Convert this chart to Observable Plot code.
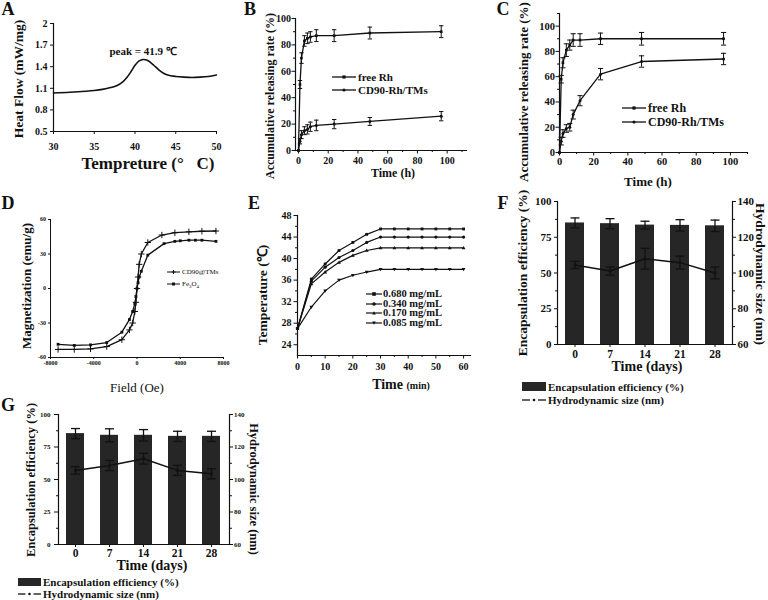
<!DOCTYPE html>
<html><head><meta charset="utf-8">
<script src="https://cdn.jsdelivr.net/npm/d3@7"></script>
<script src="https://cdn.jsdelivr.net/npm/@observablehq/plot@0.6"></script>
<style>
html,body{margin:0;padding:0;background:#fff;}
#root{position:relative;width:768px;height:600px;overflow:hidden;font-family:"Liberation Serif","Times New Roman",serif;color:#111;}
.t{position:absolute;white-space:nowrap;font-weight:bold;line-height:1;}
</style></head><body><div id="root"></div>
<script>
// ---------------- DATA ----------------
// Panel A: DSC curve
const tempA = [30, 32, 34, 35, 36, 37, 37.8, 38.5, 39, 39.5, 40, 40.5, 41, 41.5, 42, 42.5, 43, 43.5, 44, 45, 46, 47, 48, 49, 50];
const heatA = [1.035, 1.045, 1.06, 1.07, 1.085, 1.11, 1.14, 1.19, 1.25, 1.33, 1.42, 1.48, 1.50, 1.49, 1.45, 1.40, 1.35, 1.31, 1.285, 1.265, 1.255, 1.25, 1.255, 1.265, 1.285];
const peakTextA = "peak = 41.9 ℃";
const ticksAx = [30, 35, 40, 45, 50];
const ticksAy = [0.5, 0.8, 1.1, 1.4, 1.7, 2];

// Panel B: release
const timeB = [0, 1, 2, 4, 6, 8, 12, 24, 48, 96];
const freeB = [0, 50, 70, 83, 85, 86, 87, 87, 89, 90];
const freeBErr = [0, 3, 4, 4, 4, 4, 4.5, 4.5, 4.5, 4.5];
const cdB = [0, 7, 12, 15, 16, 18, 19, 20, 22, 26];
const cdBErr = [0, 2, 3, 3, 3.5, 3.5, 4, 3.5, 3, 3.5];

// Panel C: release
const timeC = [0, 1, 2, 4, 6, 8, 12, 24, 48, 96];
const freeC = [0, 58, 71, 81, 85, 89, 89, 90, 90, 90];
const freeCErr = [0, 3, 4, 5, 4, 5, 5, 4.5, 5, 5];
const cdC = [0, 9, 15, 19, 20, 30, 41, 62, 72, 74];
const cdCErr = [0, 3, 3, 3, 3, 3.5, 4, 4.5, 4.5, 4.5];
const seriesBC = ["free Rh", "CD90-Rh/TMs"];

// Panel D: magnetization
const fieldD1 = [-7300, -5800, -4300, -2800, -1400, -700, -400, -200, -100, 0, 100, 200, 400, 1000, 2300, 3500, 4800, 6000, 7300];
const magD1 = [-53, -53, -52.5, -50.5, -44.5, -36, -30, -20, -12, 0, 10, 21, 30, 40, 46.5, 48.5, 49.3, 49.8, 50];
const fieldD2 = [-7300, -5800, -4300, -2800, -1400, -700, -400, -200, -100, 0, 100, 200, 400, 1000, 2500, 3500, 4000, 4800, 5400, 6000, 7300];
const magD2 = [-48.5, -49.5, -49, -47, -38, -27, -20, -13, -7, 0, 5, 10, 15, 29, 39, 41, 41.5, 42, 42, 42, 41];
const seriesD = ["CD90@TMs", "Fe3O4"];

// Panel E: heating curves
const timeE = [0, 5, 10, 15, 20, 25, 30, 35, 40, 45, 50, 55, 60];
const e680 = [27, 36.2, 39, 41.5, 43, 44.5, 45.5, 45.5, 45.5, 45.5, 45.5, 45.5, 45.5];
const e340 = [27, 35.8, 38.4, 40.2, 41.5, 43, 44, 44, 44, 44, 44, 44, 44];
const e170 = [27, 35.3, 37.5, 39.3, 40.6, 41.5, 42, 42, 42, 42, 42, 42, 42];
const e085 = [27, 31, 34, 36, 36.9, 37.5, 38, 38, 38, 38, 38, 38, 38];
const seriesE = ["0.680 mg/mL", "0.340 mg/mL", "0.170 mg/mL", "0.085 mg/mL"];

// Panel F: encapsulation efficiency & size
const daysF = [0, 7, 14, 21, 28];
const eeF = [85, 84.5, 83.5, 83.3, 83];
const eeFErr = [3.5, 3.5, 2.7, 4, 4];
const sizeF = [104.5, 101.1, 108, 105.8, 100];
const sizeFErr = [2, 2.3, 5.8, 3.6, 3.3];

// Panel G
const daysG = [0, 7, 14, 21, 28];
const eeG = [85.3, 84, 84, 83.2, 83.2];
const eeGErr = [3.9, 5, 4.4, 3.9, 3.9];
const sizeG = [105.6, 108.6, 112.8, 105.6, 103.5];
const sizeGErr = [2.3, 3.1, 3.3, 3.1, 3.1];

const ticksLeftFG = [0, 25, 50, 75, 100];
const ticksRightFG = [60, 80, 100, 120, 140];
const sizeDomain = [60, 140];

// ---------------- HELPERS ----------------
const root = document.getElementById("root");
const FONT = '"Liberation Serif", "Times New Roman", serif';
const INK = "#111";
function put(svg, left, top) {
  svg.style.position = "absolute"; svg.style.left = left + "px"; svg.style.top = top + "px";
  svg.style.maxWidth = "none";
  root.appendChild(svg);
}
function txt(s, x, y, size, opt = {}) {
  const d = document.createElement("div");
  d.className = "t"; d.innerHTML = s;
  d.style.left = x + "px"; d.style.top = y + "px"; d.style.fontSize = size + "px";
  if (opt.weight) d.style.fontWeight = opt.weight;
  const ax = opt.anchor === "start" ? "0" : "-50%";
  d.style.transform = `translate(${ax},-50%)` + (opt.rot ? ` rotate(${opt.rot}deg)` : "");
  root.appendChild(d);
}
function markerSvg(m, cx, cy, s) {
  if (m === "square") return `<rect x="${cx - s}" y="${cy - s}" width="${2 * s}" height="${2 * s}" fill="${INK}"/>`;
  if (m === "circle") return `<circle cx="${cx}" cy="${cy}" r="${s}" fill="${INK}"/>`;
  if (m === "plus") return `<path d="M${cx - s},${cy}H${cx + s}M${cx},${cy - s}V${cy + s}" stroke="${INK}" stroke-width="1"/>`;
  if (m === "tri") return `<path d="M${cx - s},${cy + s * 0.8}L${cx + s},${cy + s * 0.8}L${cx},${cy - s}Z" fill="${INK}"/>`;
  if (m === "tridown") return `<path d="M${cx - s},${cy - s * 0.8}L${cx + s},${cy - s * 0.8}L${cx},${cy + s}Z" fill="${INK}"/>`;
  if (m === "dot") return `<circle cx="${cx}" cy="${cy}" r="${s}" fill="${INK}"/>`;
  return "";
}
function sample(x, y, w, m, s = 2, sw = 1.3, dashGap = 0) {
  const el = document.createElement("div");
  const cx = w / 2;
  let line = `<line x1="0" y1="5" x2="${w}" y2="5" stroke="${INK}" stroke-width="${sw}"/>`;
  if (dashGap) line = `<line x1="0" y1="5" x2="${cx - dashGap}" y2="5" stroke="${INK}" stroke-width="${sw}"/><line x1="${cx + dashGap}" y1="5" x2="${w}" y2="5" stroke="${INK}" stroke-width="${sw}"/>`;
  el.innerHTML = `<svg width="${w}" height="10" style="display:block;overflow:visible">${line}${markerSvg(m, cx, 5, s)}</svg>`;
  el.style.cssText = `position:absolute;left:${x}px;top:${y - 5}px;`;
  root.appendChild(el);
}
function swatch(x, y, w, h) {
  const el = document.createElement("div");
  el.style.cssText = `position:absolute;left:${x}px;top:${y}px;width:${w}px;height:${h}px;background:#262626;`;
  root.appendChild(el);
}
const hcap = { draw(ctx, size) { const r = Math.sqrt(size / Math.PI); ctx.moveTo(-r, 0); ctx.lineTo(r, 0); } };
const triDown = { draw(ctx, size) { const r = Math.sqrt(size / Math.PI) * 1.2; ctx.moveTo(-r, -r * 0.7); ctx.lineTo(r, -r * 0.7); ctx.lineTo(0, r); ctx.closePath(); } };
const triUp = { draw(ctx, size) { const r = Math.sqrt(size / Math.PI) * 1.2; ctx.moveTo(-r, r * 0.7); ctx.lineTo(r, r * 0.7); ctx.lineTo(0, -r); ctx.closePath(); } };
function errMarks(data, x, y, e, cap, sw = 1) {
  const f = d => d[e] > 0;
  return [
    Plot.ruleX(data, { x, y1: d => d[y] - d[e], y2: d => d[y] + d[e], stroke: INK, strokeWidth: sw, filter: f }),
    Plot.dot(data, { x, y: d => d[y] - d[e], symbol: hcap, r: cap, stroke: INK, strokeWidth: sw, filter: f }),
    Plot.dot(data, { x, y: d => d[y] + d[e], symbol: hcap, r: cap, stroke: INK, strokeWidth: sw, filter: f })
  ];
}
function mk(fs, opts) {
  return Plot.plot({
    style: { fontFamily: FONT, fontWeight: "bold", fontSize: fs + "px", background: "transparent", overflow: "visible", color: INK },
    ...opts
  });
}
const minor = (a, b, s) => d3.range(a, b + 1e-9, s);

// ---------------- PANEL A ----------------
const dataA = tempA.map((t, i) => ({ t, h: heatA[i] }));
const peakA = dataA.reduce((a, b) => (b.h > a.h ? b : a));
put(mk(10, {
  width: 240, height: 180, marginLeft: 53, marginRight: 24, marginTop: 23, marginBottom: 49,
  x: { domain: [30, 50] }, y: { domain: [0.5, 2] },
  marks: [
    Plot.frame({ anchor: "left", stroke: INK, strokeWidth: 1.2 }),
    Plot.frame({ anchor: "bottom", stroke: INK, strokeWidth: 1.2 }),
    Plot.axisX({ ticks: ticksAx, tickSize: 3, tickPadding: 8, label: null }),
    Plot.axisY({ ticks: ticksAy, tickSize: 3, tickPadding: 3, label: null, tickFormat: d => String(d) }),
    Plot.line(dataA, { x: "t", y: "h", curve: "catmull-rom", stroke: INK, strokeWidth: 1.6 }),
    Plot.text([peakA], { x: "t", y: "h", text: () => peakTextA, dy: -5, fontSize: 11, lineAnchor: "bottom" })
  ]
}), 0, 0);
txt("A", 8, 9, 18);
txt("Heat Flow (mW/mg)", 19, 79, 13.5, { rot: -90 });
txt("Tempreture (°&nbsp;&nbsp;&nbsp;C)", 148, 163, 17);

// ---------------- PANEL B & C ----------------
function releasePanel(time, free, freeErr, cd, cdErr, cfg) {
  const rows = [];
  time.forEach((t, i) => {
    rows.push({ s: seriesBC[0], t, v: free[i], e: freeErr[i] });
    rows.push({ s: seriesBC[1], t, v: cd[i], e: cdErr[i] });
  });
  return mk(cfg.fs, {
    width: cfg.w, height: cfg.h, marginLeft: cfg.ml, marginRight: cfg.mr, marginTop: cfg.mt, marginBottom: cfg.mb,
    x: { domain: cfg.xd }, y: { domain: cfg.yd },
    marks: [
      Plot.frame({ anchor: "left", stroke: INK, strokeWidth: 1.2 }),
      Plot.frame({ anchor: "bottom", stroke: INK, strokeWidth: 1.2 }),
      Plot.axisX({ ticks: minor(10, cfg.xd[1], 20), tickSize: 2, text: null, label: null }),
      Plot.axisY({ ticks: minor(10, cfg.yd[1], 20), tickSize: 2, text: null, label: null }),
      Plot.axisX({ ticks: minor(0, 100, 20), tickSize: 3.5, tickPadding: cfg.xpad, label: null }),
      Plot.axisY({ ticks: minor(0, 100, 20), tickSize: 3.5, tickPadding: cfg.ypad, label: null }),
      ...errMarks(rows, "t", "v", "e", cfg.cap),
      Plot.line(rows, { x: "t", y: "v", z: "s", stroke: INK, strokeWidth: 1.3 }),
      Plot.dot(rows, { x: "t", y: "v", symbol: d => d.s === seriesBC[0] ? "square" : "circle", fill: INK, r: 1.5 })
    ]
  });
}
put(releasePanel(timeB, freeB, freeBErr, cdB, cdBErr, { fs: 10, w: 240, h: 190, ml: 39, mr: 30, mt: 18, mb: 40, xd: [-2, 113], yd: [0, 100], xpad: 3, ypad: 1, cap: 2.2 }), 256, 0);
txt("B", 250, 9, 18);
txt("Accumulative releasing rate (%)", 270, 96, 12, { rot: -90 });
txt("Time (h)", 393, 173, 12);
sample(332, 77, 24, "square", 1.6); txt(seriesBC[0], 358, 77, 11, { anchor: "start" });
sample(332, 90, 24, "circle", 1.6); txt(seriesBC[1], 358, 90, 11, { anchor: "start" });

put(releasePanel(timeC, freeC, freeCErr, cdC, cdCErr, { fs: 10.5, w: 250, h: 195, ml: 49, mr: 13, mt: 13, mb: 43, xd: [0, 110], yd: [0, 110], xpad: 2, ypad: 1, cap: 2.6 }), 510, 0);
txt("C", 503, 9, 18);
txt("Accumulative releasing rate (%)", 523, 92, 13, { rot: -90 });
txt("Time (h)", 648, 181, 13);
sample(622, 108, 24, "square", 1.6); txt(seriesBC[0], 648, 108, 12, { anchor: "start" });
sample(622, 122, 24, "circle", 1.6); txt(seriesBC[1], 648, 122, 12, { anchor: "start" });

// ---------------- PANEL D ----------------
const dataD = [
  ...fieldD1.map((f, i) => ({ s: seriesD[0], f, m: magD1[i] })),
  ...fieldD2.map((f, i) => ({ s: seriesD[1], f, m: magD2[i] }))
];
put(mk(6, {
  width: 250, height: 200, marginLeft: 50, marginRight: 27, marginTop: 24, marginBottom: 38,
  x: { domain: [-8000, 8000] }, y: { domain: [-60, 60] },
  marks: [
    Plot.frame({ anchor: "left", stroke: INK, strokeWidth: 1 }),
    Plot.frame({ anchor: "bottom", stroke: INK, strokeWidth: 1 }),
    Plot.axisX({ ticks: [-8000, -4000, 0, 4000, 8000], tickSize: 2, tickPadding: 1.5, label: null, tickFormat: d => String(d) }),
    Plot.axisY({ ticks: [-60, -30, 0, 30, 60], tickSize: 2, tickPadding: 2.5, label: null, tickFormat: d => String(d) }),
    Plot.line(dataD, { x: "f", y: "m", z: "s", stroke: INK, strokeWidth: 1.3 }),
    Plot.dot(dataD.filter(d => d.s === seriesD[0]), { x: "f", y: "m", symbol: "plus", r: 2.2, stroke: INK, strokeWidth: 1 }),
    Plot.dot(dataD.filter(d => d.s === seriesD[1]), { x: "f", y: "m", symbol: "square", r: 1.6, fill: INK })
  ]
}), 0, 195);
txt("D", 8, 203, 18);
txt("Magnetization (emu/g)", 26, 286, 13, { rot: -90 });
txt("Field (Oe)", 137, 387, 13, { weight: "normal" });
sample(167, 272, 13, "plus", 2, 1); txt("CD90@TMs", 182, 272, 7, { anchor: "start", weight: "normal" });
sample(167, 284, 13, "square", 1.5, 1); txt("Fe<sub style='font-size:5px'>3</sub>O<sub style='font-size:5px'>4</sub>", 182, 285, 7, { anchor: "start", weight: "normal" });

// ---------------- PANEL E ----------------
const seriesValsE = [e680, e340, e170, e085];
const symsE = ["square", "circle", triUp, triDown];
const dataE = [];
seriesValsE.forEach((vals, k) => timeE.forEach((t, i) => dataE.push({ s: seriesE[k], k, t, v: vals[i] })));
put(mk(10, {
  width: 250, height: 200, marginLeft: 41, marginRight: 36, marginTop: 20, marginBottom: 40,
  x: { domain: [0, 62.5] }, y: { domain: [22, 48] },
  marks: [
    Plot.frame({ anchor: "left", stroke: INK, strokeWidth: 1.2 }),
    Plot.frame({ anchor: "bottom", stroke: INK, strokeWidth: 1.2 }),
    Plot.axisX({ ticks: minor(5, 55, 10), tickSize: 2, text: null, label: null }),
    Plot.axisY({ ticks: minor(26, 46, 4), tickSize: 2, text: null, label: null }),
    Plot.axisX({ ticks: minor(0, 60, 10), tickSize: 3.5, tickPadding: 4, label: null }),
    Plot.axisY({ ticks: minor(24, 48, 4), tickSize: 3.5, tickPadding: 2.5, label: null }),
    Plot.line(dataE, { x: "t", y: "v", z: "s", stroke: INK, strokeWidth: 1.2 }),
    ...symsE.map((sym, k) => Plot.dot(dataE.filter(d => d.k === k), { x: "t", y: "v", symbol: sym, r: 1.6, fill: INK }))
  ]
}), 256, 195);
txt("E", 254, 203, 18);
txt("Temperature (℃)", 263, 295, 13.5, { rot: -90 });
txt("Time <span style='font-size:10px'>(min)</span>", 401, 385, 14);
const legE = ["square", "circle", "tri", "tridown"];
const legEy = [294, 303.5, 313, 322.7];
seriesE.forEach((s, k) => { sample(366, legEy[k], 16, legE[k], 1.8, 1.2); txt(s, 383, legEy[k], 10.5, { anchor: "start" }); });

// ---------------- PANELS F & G ----------------
const toLeft = v => (v - sizeDomain[0]) / (sizeDomain[1] - sizeDomain[0]) * 100;
const toLeftErr = e => e / (sizeDomain[1] - sizeDomain[0]) * 100;
function eePanel(days, ee, eeErr, size, sizeErr, cfg) {
  const rows = days.map((d, i) => ({ d, ee: ee[i], eeE: eeErr[i], sz: toLeft(size[i]), szE: toLeftErr(sizeErr[i]) }));
  return mk(cfg.fs, {
    width: cfg.w, height: cfg.h, marginLeft: cfg.ml, marginRight: cfg.mr, marginTop: cfg.mt, marginBottom: cfg.mb,
    x: { type: "band", domain: days, paddingInner: 0.47, paddingOuter: 0.235 },
    y: { domain: [0, 100] },
    marks: [
      Plot.barY(rows, { x: "d", y: "ee", fill: "#262626" }),
      Plot.frame({ anchor: "left", stroke: INK, strokeWidth: 1.2 }),
      Plot.frame({ anchor: "right", stroke: INK, strokeWidth: 1.2 }),
      Plot.frame({ anchor: "bottom", stroke: INK, strokeWidth: 1.2 }),
      Plot.axisX({ tickSize: 3, tickPadding: cfg.xpad, label: null, fontSize: cfg.xfs }),
      Plot.axisY({ ticks: [12.5, 37.5, 62.5, 87.5], tickSize: 2, text: null, label: null }),
      Plot.axisY({ ticks: ticksLeftFG, tickSize: cfg.ytick, tickPadding: cfg.ypad, label: null }),
      Plot.axisY({ anchor: "right", ticks: [12.5, 37.5, 62.5, 87.5], tickSize: 2, text: null, label: null }),
      Plot.axisY({ anchor: "right", ticks: ticksRightFG.map(toLeft), tickSize: 3, tickPadding: cfg.rpad, label: null, tickFormat: (d, i) => String(ticksRightFG[i]) }),
      ...errMarks(rows, "d", "ee", "eeE", cfg.cap, 1.3),
      ...errMarks(rows, "d", "sz", "szE", cfg.cap, 1.3),
      Plot.line(rows, { x: "d", y: "sz", stroke: INK, strokeWidth: 1.5 }),
      Plot.dot(rows, { x: "d", y: "sz", r: 1.6, fill: INK })
    ]
  });
}
put(eePanel(daysF, eeF, eeFErr, sizeF, sizeFErr, { fs: 11, xfs: 11.5, w: 258, h: 175, ml: 47, mr: 36, mt: 6, mb: 26, xpad: 2, ypad: 3, ytick: 3, rpad: 2, cap: 4.5 }), 510, 195);
txt("F", 503, 203, 18);
txt("Encapsulation efficiency (%)", 523, 273, 13.5, { rot: -90 });
txt("Hydrodynamic size (nm)", 760, 274, 13.5, { rot: 90 });
txt("Time (days)", 647, 367, 14);
swatch(522, 382, 24, 9); txt("Encapsulation efficiency (%)", 548, 386.5, 11, { anchor: "start" });
sample(522, 400, 24, "dot", 1.3, 1.3, 4); txt("Hydrodynamic size (nm)", 548, 400, 11, { anchor: "start" });

put(eePanel(daysG, eeG, eeGErr, sizeG, sizeGErr, { fs: 7, xfs: 11.5, w: 260, h: 170, ml: 58, mr: 31, mt: 19, mb: 21, xpad: 1, ypad: 4, ytick: 4, rpad: 1.5, cap: 4.5 }), 0, 395);
txt("G", 8, 405, 18);
txt("Encapsulation efficiency (%)", 31, 480, 12.5, { rot: -90 });
txt("Hydrodynamic size (nm)", 254, 489, 12.5, { rot: 90 });
txt("Time (days)", 152, 566, 14);
swatch(18, 578, 23, 8); txt("Encapsulation efficiency (%)", 43, 582, 11, { anchor: "start" });
sample(18, 594, 23, "dot", 1.3, 1.3, 4); txt("Hydrodynamic size (nm)", 43, 594, 11, { anchor: "start" });
</script>
</body></html>
